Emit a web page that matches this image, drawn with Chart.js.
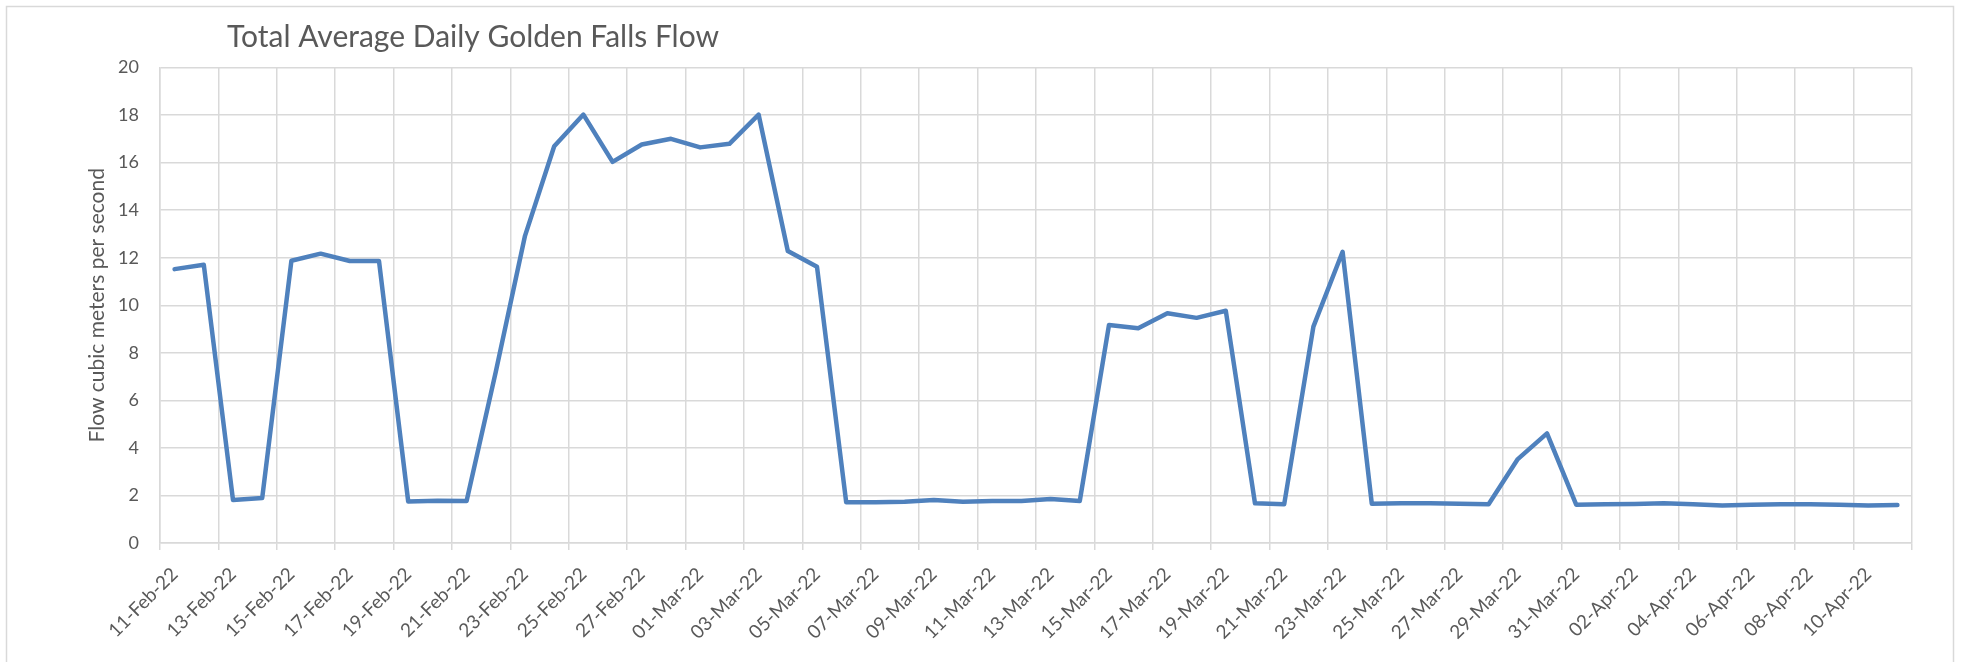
<!DOCTYPE html>
<html>
<head>
<meta charset="utf-8">
<title>Total Average Daily Golden Falls Flow</title>
<script src="https://cdn.jsdelivr.net/npm/chart.js@4.4.1/dist/chart.umd.min.js"></script>
<style>
  html, body { margin: 0; padding: 0; background: #fff; }
  #wrap { position: relative; width: 1961px; height: 662px; }
</style>
</head>
<body>
<div id="wrap"><canvas id="flow-chart" width="1961" height="662"></canvas></div>
<script>
// daily dates, one per point
const dates = [
  '11-Feb-22', '12-Feb-22', '13-Feb-22', '14-Feb-22', '15-Feb-22', '16-Feb-22', '17-Feb-22', '18-Feb-22',
  '19-Feb-22', '20-Feb-22', '21-Feb-22', '22-Feb-22', '23-Feb-22', '24-Feb-22', '25-Feb-22', '26-Feb-22',
  '27-Feb-22', '28-Feb-22',
  '01-Mar-22', '02-Mar-22', '03-Mar-22', '04-Mar-22', '05-Mar-22', '06-Mar-22', '07-Mar-22', '08-Mar-22',
  '09-Mar-22', '10-Mar-22', '11-Mar-22', '12-Mar-22', '13-Mar-22', '14-Mar-22', '15-Mar-22', '16-Mar-22',
  '17-Mar-22', '18-Mar-22', '19-Mar-22', '20-Mar-22', '21-Mar-22', '22-Mar-22', '23-Mar-22', '24-Mar-22',
  '25-Mar-22', '26-Mar-22', '27-Mar-22', '28-Mar-22', '29-Mar-22', '30-Mar-22', '31-Mar-22',
  '01-Apr-22', '02-Apr-22', '03-Apr-22', '04-Apr-22', '05-Apr-22', '06-Apr-22', '07-Apr-22', '08-Apr-22',
  '09-Apr-22', '10-Apr-22', '11-Apr-22'
];

// flow, cubic meters per second
const flow = [
  11.52, 11.70, 1.81, 1.89, 11.87, 12.17, 11.86, 11.86, 1.75, 1.78,
  1.77, 7.2, 12.92, 16.69, 18.02, 16.03, 16.76, 17.0, 16.64, 16.79,
  18.02, 12.28, 11.62, 1.71, 1.71, 1.74, 1.81, 1.74, 1.77, 1.77,
  1.85, 1.77, 9.17, 9.03, 9.66, 9.47, 9.77, 1.67, 1.63, 9.10,
  12.25, 1.65, 1.67, 1.67, 1.65, 1.63, 3.53, 4.61, 1.61, 1.63,
  1.64, 1.67, 1.63, 1.58, 1.61, 1.63, 1.63, 1.61, 1.58, 1.60
];

const yMin = 0;
const yMax = 20;
const yStep = 2;

const chartTitle = 'Total Average Daily Golden Falls Flow';
const yTitle = 'Flow cubic meters per second';

const GRID = '#d9d9d9';
const TEXT = '#595959';
const FONT = 'Lato, "Open Sans", sans-serif';

// outer frame + left-aligned title, Excel style
const frameAndTitle = {
  id: 'frameAndTitle',
  beforeDraw(chart) {
    const { ctx } = chart;
    ctx.save();
    ctx.strokeStyle = GRID;
    ctx.lineWidth = 1.5;
    ctx.beginPath();
    ctx.moveTo(6.5, 662);
    ctx.lineTo(6.5, 6.5);
    ctx.lineTo(1953.5, 6.5);
    ctx.lineTo(1953.5, 662);
    ctx.stroke();
    ctx.restore();
  },
  afterDraw(chart) {
    const { ctx } = chart;
    ctx.save();
    ctx.font = '30px ' + FONT;
    ctx.fillStyle = TEXT;
    ctx.textAlign = 'left';
    ctx.textBaseline = 'alphabetic';
    ctx.fillText(chartTitle, 227, 47);
    ctx.restore();
  }
};

const ctx = document.getElementById('flow-chart').getContext('2d');

new Chart(ctx, {
  type: 'line',
  data: {
    labels: dates,
    datasets: [{
      label: 'Flow',
      data: flow,
      borderColor: '#4f81bd',
      backgroundColor: '#4f81bd',
      borderWidth: 4.5,
      borderJoinStyle: 'round',
      borderCapStyle: 'round',
      pointRadius: 0,
      tension: 0,
      fill: false,
    }],
  },
  options: {
    responsive: false,
    animation: false,
    layout: { padding: { top: 67.5, right: 49, left: 0, bottom: 0 } },
    plugins: {
      legend: { display: false },
      tooltip: { enabled: false },
      title: { display: false },
    },
    scales: {
      x: {
        offset: true,
        grid: {
          offset: true,
          color: (c) => (c.index === undefined || c.index % 2 === 0) ? GRID : 'rgba(0,0,0,0)',
          lineWidth: 1.5,
          tickLength: 7,
        },
        border: { color: GRID, width: 1.5 },
        ticks: {
          autoSkip: false,
          maxRotation: 45,
          minRotation: 45,
          padding: 13,
          color: TEXT,
          font: { family: FONT, size: 19 },
          callback: (v, i) => (i % 2 === 0 ? dates[i] : ''),
        },
        afterFit: (scale) => { scale.height = 119; },
      },
      y: {
        min: yMin,
        max: yMax,
        grid: { color: GRID, lineWidth: 1.5, drawTicks: false },
        border: { color: GRID, width: 1.5 },
        ticks: {
          stepSize: yStep,
          padding: 21,
          color: TEXT,
          font: { family: FONT, size: 18 },
        },
        title: {
          display: true,
          text: yTitle,
          color: TEXT,
          font: { family: FONT, size: 21 },
          padding: { top: 85, bottom: 0 },
        },
        afterFit: (scale) => { scale.width = 160; },
      },
    },
  },
  plugins: [frameAndTitle],
});
</script>
</body>
</html>
